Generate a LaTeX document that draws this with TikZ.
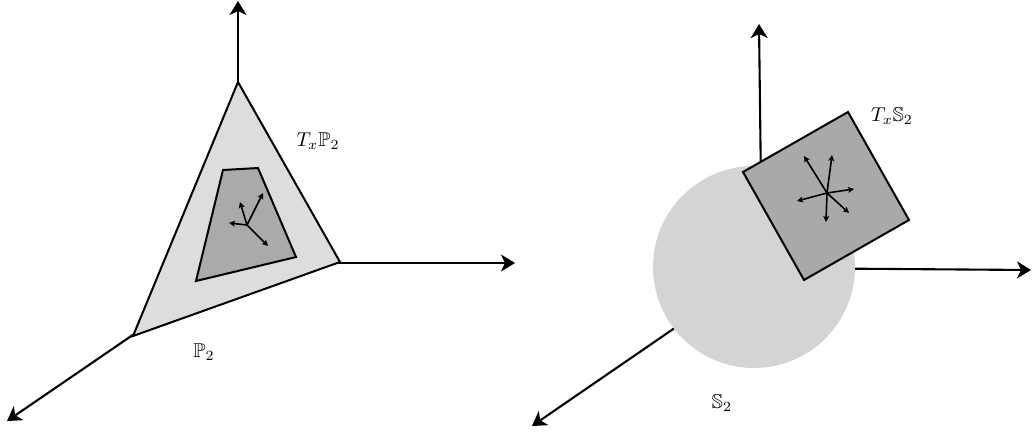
\documentclass[tikz,border=0pt]{standalone}
\usepackage{amssymb}
\usetikzlibrary{arrows.meta}
\definecolor{trifill}{HTML}{DDDDDD}
\definecolor{quadfill}{HTML}{AAAAAA}
\definecolor{circfill}{HTML}{D4D4D4}
\definecolor{sqfill}{HTML}{A9A9A9}
\begin{document}
\begin{tikzpicture}[x=0.5pt,y=-0.5pt,
  axis/.style={line width=1.05pt,-{Stealth[length=7pt,width=8.5pt,inset=2pt]}},
  vec/.style={line width=0.8pt,-{Stealth[length=3pt,width=3pt,inset=0.7pt]}},
  outline/.style={draw=black,line width=1pt,line join=miter},
  lbl/.style={inner sep=0pt}]
\useasboundingbox (0,0) rectangle (1032,436);
% ---------- left panel ----------
\coordinate (O1) at (238,263);
\coordinate (A1) at (238,1);
\coordinate (B1) at (515,263);
\coordinate (C1) at (7,421);
\draw[axis] (O1) -- (A1);
\draw[axis] (O1) -- (B1);
\draw[axis] (O1) -- (C1);
\coordinate (T1) at (238,82);
\coordinate (T2) at (340,262);
\coordinate (T3) at (133,336);
\filldraw[outline,fill=trifill] (T1) -- (T2) -- (T3) -- cycle;
\coordinate (Q1) at (223,170);
\coordinate (Q2) at (258,168);
\coordinate (Q3) at (296,257);
\coordinate (Q4) at (196,281);
\filldraw[outline,fill=quadfill] (Q1) -- (Q2) -- (Q3) -- (Q4) -- cycle;
\coordinate (P0) at (247,225);
\coordinate (Pa) at (240,202);
\coordinate (Pb) at (263,193);
\coordinate (Pc) at (229,223);
\coordinate (Pd) at (268,246);
\draw[vec] (P0) -- (Pa);
\draw[vec] (P0) -- (Pb);
\draw[vec] (P0) -- (Pc);
\draw[vec] (P0) -- (Pd);
\node[lbl] (tp) at (318,141) {$T_x\mathbb{P}_2$};
\node[lbl] (pp) at (204,352) {$\mathbb{P}_2$};
% ---------- right panel ----------
\coordinate (O2) at (762,268);
\coordinate (A2) at (759,24);
\coordinate (B2) at (1031,270);
\coordinate (C2) at (532,426);
\draw[axis] (O2) -- (A2);
\draw[axis] (O2) -- (B2);
\draw[axis] (O2) -- (C2);
\fill[circfill] (754,267) circle[radius=101];
\coordinate (S1) at (743,172);
\coordinate (S2) at (848,112);
\coordinate (S3) at (909,220);
\coordinate (S4) at (804,280);
\filldraw[outline,fill=sqfill] (S1) -- (S2) -- (S3) -- (S4) -- cycle;
\coordinate (R0) at (827,193);
\coordinate (Ra) at (804,156);
\coordinate (Rb) at (832,155);
\coordinate (Rc) at (854,189);
\coordinate (Rd) at (797,201);
\coordinate (Re) at (849,213);
\coordinate (Rf) at (826,222);
\draw[vec] (R0) -- (Ra);
\draw[vec] (R0) -- (Rb);
\draw[vec] (R0) -- (Rc);
\draw[vec] (R0) -- (Rd);
\draw[vec] (R0) -- (Re);
\draw[vec] (R0) -- (Rf);
\node[lbl] (ts) at (892,116) {$T_x\mathbb{S}_2$};
\node[lbl] (ss) at (722,403) {$\mathbb{S}_2$};
\end{tikzpicture}
\end{document}
